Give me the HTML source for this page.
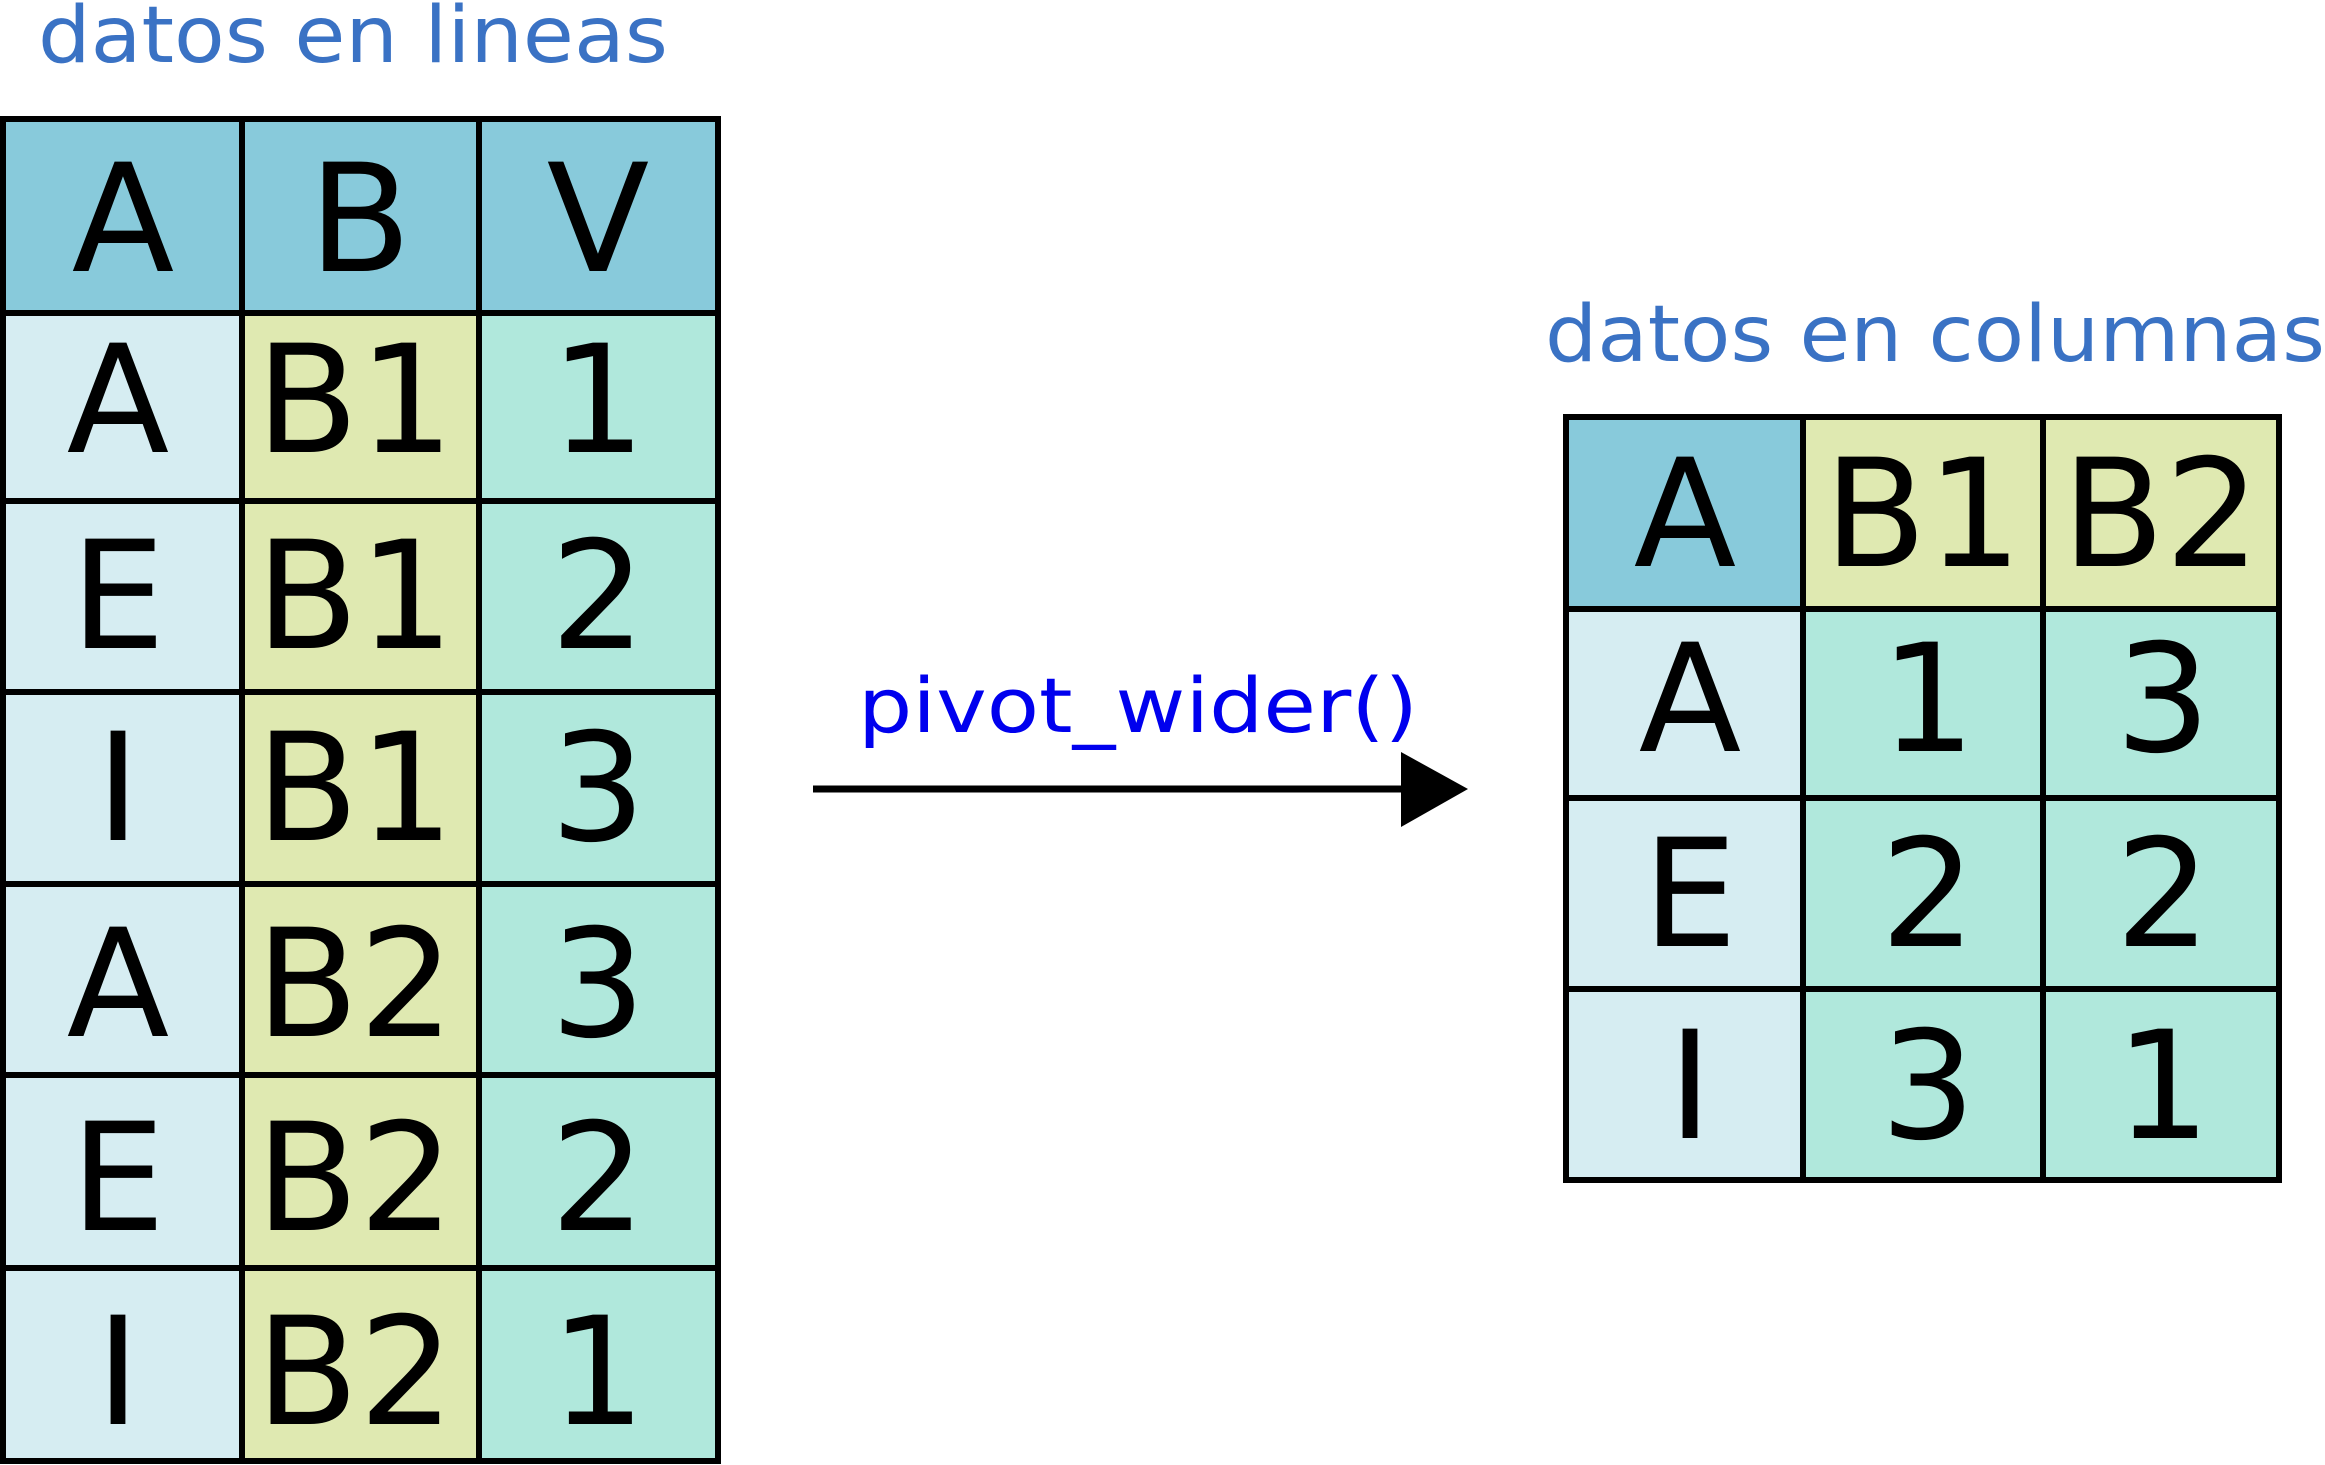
<!DOCTYPE html>
<html><head><meta charset="utf-8"><style>html,body{margin:0;padding:0;background:#fff}svg{display:block}</style></head>
<body>
<svg width="2325" height="1465" viewBox="0 0 2325 1465" xmlns="http://www.w3.org/2000/svg" font-family="'DejaVu Sans', 'Liberation Sans', sans-serif">
<text x="38" y="62" font-size="78" fill="#3a72c4" textLength="630" lengthAdjust="spacingAndGlyphs">datos en lineas</text>
<text x="1545" y="361" font-size="78" fill="#3a72c4" textLength="780" lengthAdjust="spacingAndGlyphs">datos en columnas</text>
<text x="858" y="732" font-size="76" fill="#0000ee" textLength="560" lengthAdjust="spacingAndGlyphs">pivot_wider()</text>
<line x1="813" y1="789" x2="1405" y2="789" stroke="#000" stroke-width="7"/>
<polygon points="1401,752 1468,789 1401,827" fill="#000"/>
<g stroke="#000" stroke-width="6">
<!-- left table -->
<rect x="3" y="119" width="715" height="194" fill="#88cadb"/>
<rect x="3" y="313" width="239" height="1148" fill="#d6edf2"/>
<rect x="242" y="313" width="237" height="1148" fill="#dfe9b1"/>
<rect x="479" y="313" width="239" height="1148" fill="#b0e8dc"/>
<line x1="242" y1="119" x2="242" y2="1461"/><line x1="479" y1="119" x2="479" y2="1461"/>
<line x1="3" y1="501" x2="718" y2="501"/><line x1="3" y1="692" x2="718" y2="692"/>
<line x1="3" y1="884" x2="718" y2="884"/><line x1="3" y1="1075" x2="718" y2="1075"/>
<line x1="3" y1="1268" x2="718" y2="1268"/>
<rect x="3" y="119" width="715" height="1342" fill="none"/>
<!-- right table -->
<rect x="1566" y="417" width="237" height="192" fill="#88cadb"/>
<rect x="1803" y="417" width="476" height="192" fill="#dfe9b1"/>
<rect x="1566" y="609" width="237" height="571" fill="#d6edf2"/>
<rect x="1803" y="609" width="476" height="571" fill="#b0e8dc"/>
<line x1="1803" y1="417" x2="1803" y2="1180"/><line x1="2043" y1="417" x2="2043" y2="1180"/>
<line x1="1566" y1="609" x2="2279" y2="609"/><line x1="1566" y1="798" x2="2279" y2="798"/>
<line x1="1566" y1="989" x2="2279" y2="989"/>
<rect x="1566" y="417" width="713" height="763" fill="none"/>
</g>
<g font-size="150" fill="#000" text-anchor="middle">
<text x="123" y="271">A</text><text x="360" y="271">B</text><text x="598" y="271">V</text>
<text x="118" y="452">A</text><text x="355" y="452">B1</text><text x="598" y="452">1</text>
<text x="118" y="648">E</text><text x="355" y="648">B1</text><text x="598" y="648">2</text>
<text x="118" y="840">I</text><text x="355" y="840">B1</text><text x="598" y="840">3</text>
<text x="118" y="1036">A</text><text x="355" y="1036">B2</text><text x="598" y="1036">3</text>
<text x="118" y="1230">E</text><text x="355" y="1230">B2</text><text x="598" y="1230">2</text>
<text x="118" y="1424">I</text><text x="355" y="1424">B2</text><text x="598" y="1424">1</text>
<text x="1685" y="566">A</text><text x="1923" y="566">B1</text><text x="2161" y="566">B2</text>
<text x="1690" y="751">A</text><text x="1928" y="751">1</text><text x="2163" y="751">3</text>
<text x="1690" y="946">E</text><text x="1928" y="946">2</text><text x="2163" y="946">2</text>
<text x="1690" y="1138">I</text><text x="1928" y="1138">3</text><text x="2163" y="1138">1</text>
</g>
</svg>
</body></html>
